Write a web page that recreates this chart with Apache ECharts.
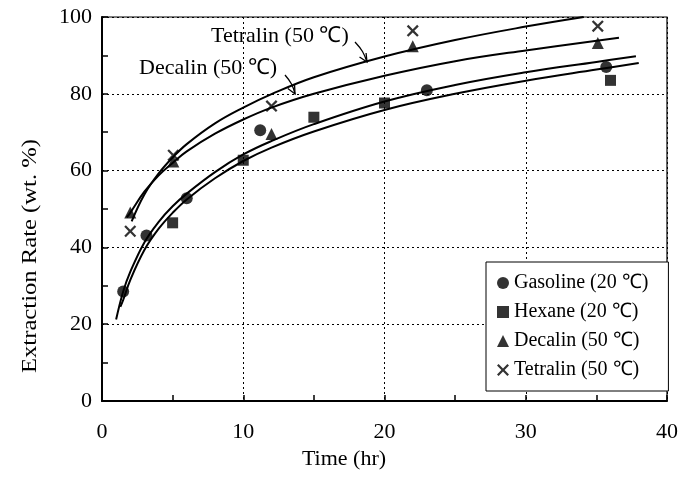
<!DOCTYPE html>
<html>
<head>
<meta charset="utf-8">
<script src="https://cdn.jsdelivr.net/npm/echarts@6/dist/echarts.min.js"></script>
<style>html,body{margin:0;padding:0;background:#fff}#c{width:688px;height:490px}</style>
</head>
<body>
<div id="c"></div>
<script>
// ---- measured points ----
const gasolineX = [1.5, 3.15, 6.0, 11.2, 23.0, 35.7];
const gasolineY = [28.5, 43.1, 52.8, 70.5, 80.9, 87.0];
const hexaneX = [5.0, 10.0, 15.0, 20.0, 36.0];
const hexaneY = [46.4, 62.7, 73.9, 77.6, 83.5];
const decalinX = [2.0, 5.05, 12.0, 22.0, 35.1];
const decalinY = [49.1, 62.4, 69.5, 92.4, 93.2];
const tetralinX = [2.0, 5.05, 12.0, 22.0, 35.1];
const tetralinY = [44.2, 64.0, 76.8, 96.4, 97.6];

// ---- fitted curves ----
const gasCurveX = [1.0, 1.5, 2, 3, 4, 5, 6, 8, 10, 12, 15, 20, 25, 30, 35, 37.8];
const gasCurveY = [21.2, 28.5, 33.6, 41.3, 46.6, 50.7, 54.0, 59.6, 64.2, 67.7, 72.1, 78.0, 82.3, 85.6, 88.3, 89.8];
const hexCurveX = [1.3, 1.5, 2, 3, 4, 5, 6, 8, 10, 12, 15, 20, 25, 30, 35, 38];
const hexCurveY = [24.5, 26.3, 31.5, 39.3, 44.8, 49.0, 52.5, 58.0, 62.5, 66.0, 70.2, 75.8, 80.0, 83.4, 86.3, 88.0];
const decCurveX = [1.75, 2, 3, 4, 5, 6, 8, 10, 12, 15, 20, 25, 30, 36.6];
const decCurveY = [47.8, 49.0, 54.5, 58.7, 62.0, 65.0, 69.6, 73.3, 76.4, 80.0, 84.7, 88.5, 91.3, 94.6];
const tetCurveX = [2.1, 3, 4, 5, 6, 8, 10, 12, 15, 20, 25, 30, 34.1];
const tetCurveY = [46.8, 53.8, 59.2, 63.4, 66.9, 72.3, 76.4, 79.9, 84.3, 89.7, 94.0, 97.5, 100];

const seriesNames = ['Gasoline (20 \u2103)', 'Hexane (20 \u2103)', 'Decalin (50 \u2103)', 'Tetralin (50 \u2103)'];
const xTitle = 'Time (hr)';
const yTitle = 'Extraction Rate (wt. %)';

const zip = (xs, ys) => xs.map((x, i) => [x, ys[i]]);
const FONT = '"Liberation Serif", "Times New Roman", serif';
const crossPath = 'path://M0,1.6 L1.6,0 L6,4.4 L10.4,0 L12,1.6 L7.6,6 L12,10.4 L10.4,12 L6,7.6 L1.6,12 L0,10.4 L4.4,6 Z';

function arrow(x0, y0, x1, y1) {
  const dx = x1 - x0, dy = y1 - y0, L = Math.hypot(dx, dy);
  const ux = -dx / L, uy = -dy / L, a = 25 * Math.PI / 180, len = 9;
  const w = t => [x1 + len * (ux * Math.cos(t) - uy * Math.sin(t)), y1 + len * (ux * Math.sin(t) + uy * Math.cos(t))];
  return [
    { type: 'polyline', shape: { points: [[x0, y0], [(x0 + x1) / 2 + 1.5, (y0 + y1) / 2 - 0.5], [x1, y1]], smooth: 0.4 }, style: { stroke: '#000', lineWidth: 1.3, fill: null } },
    { type: 'polyline', shape: { points: [w(a), [x1, y1], w(-a)] }, style: { stroke: '#000', lineWidth: 1.3, fill: null } }
  ];
}

const chart = echarts.init(document.getElementById('c'), null, { renderer: 'canvas' });
const curveStyle = { color: '#000', width: 2 };
const gridLine = { show: true, lineStyle: { color: '#000', width: 1, type: [2, 3] } };

chart.setOption({
  animation: false,
  backgroundColor: '#fff',
  textStyle: { fontFamily: FONT, color: '#000' },
  grid: { left: 102, right: 21, top: 17, bottom: 89, show: true, borderColor: '#000', borderWidth: 1.2, containLabel: false },
  xAxis: {
    type: 'value', min: 0, max: 40, interval: 10,
    axisLine: { show: true, onZero: false, lineStyle: { color: '#000', width: 2 } },
    axisTick: { show: true, inside: true, length: 6, lineStyle: { color: '#000', width: 1.5 } },
    minorTick: { show: true, splitNumber: 2, length: 6, lineStyle: { color: '#000', width: 1.5 } },
    axisLabel: { fontFamily: FONT, fontSize: 22, color: '#000', margin: 20 },
    splitLine: gridLine
  },
  yAxis: {
    type: 'value', min: 0, max: 100, interval: 20,
    axisLine: { show: true, onZero: false, lineStyle: { color: '#000', width: 2 } },
    axisTick: { show: true, inside: true, length: 6, lineStyle: { color: '#000', width: 1.5 } },
    minorTick: { show: true, splitNumber: 2, length: 6, lineStyle: { color: '#000', width: 1.5 } },
    axisLabel: { fontFamily: FONT, fontSize: 22, color: '#000', margin: 10 },
    splitLine: gridLine
  },
  legend: {
    data: seriesNames,
    orient: 'vertical', left: 486, top: 262,
    backgroundColor: '#fff', borderColor: '#000', borderWidth: 1,
    padding: [11, 20, 11, 11], itemGap: 9, itemWidth: 12, itemHeight: 12,
    textStyle: { fontFamily: FONT, fontSize: 20, color: '#000' }
  },
  graphic: [
    { type: 'text', left: 211, top: 25, style: { text: 'Tetralin (50 \u2103)', font: '22px ' + FONT, fill: '#000' } },
    { type: 'text', left: 139, top: 57, style: { text: 'Decalin (50 \u2103)', font: '22px ' + FONT, fill: '#000' } },
    ...arrow(355, 42, 367, 62),
    ...arrow(285, 75, 295, 94),
    { type: 'text', x: 344, y: 459, style: { text: xTitle, font: '22px ' + FONT, fill: '#000', align: 'center', verticalAlign: 'middle' } },
    { type: 'text', x: 30, y: 256, rotation: Math.PI / 2, scaleX: 1.12, style: { text: yTitle, font: '22px ' + FONT, fill: '#000', align: 'center', verticalAlign: 'middle' } }
  ],
  series: [
    { type: 'line', data: zip(gasCurveX, gasCurveY), smooth: 0.4, showSymbol: false, symbol: 'none', lineStyle: curveStyle, silent: true, z: 1 },
    { type: 'line', data: zip(hexCurveX, hexCurveY), smooth: 0.4, showSymbol: false, symbol: 'none', lineStyle: curveStyle, silent: true, z: 1 },
    { type: 'line', data: zip(decCurveX, decCurveY), smooth: 0.4, showSymbol: false, symbol: 'none', lineStyle: curveStyle, silent: true, z: 1 },
    { type: 'line', data: zip(tetCurveX, tetCurveY), smooth: 0.4, showSymbol: false, symbol: 'none', lineStyle: curveStyle, silent: true, z: 1 },
    { name: seriesNames[0], type: 'scatter', data: zip(gasolineX, gasolineY), symbol: 'circle', symbolSize: 12, itemStyle: { color: '#000' }, z: 3 },
    { name: seriesNames[1], type: 'scatter', data: zip(hexaneX, hexaneY), symbol: 'rect', symbolSize: 11, itemStyle: { color: '#000' }, z: 3 },
    { name: seriesNames[2], type: 'scatter', data: zip(decalinX, decalinY), symbol: 'triangle', symbolSize: 12, itemStyle: { color: '#000' }, z: 3 },
    { name: seriesNames[3], type: 'scatter', data: zip(tetralinX, tetralinY), symbol: crossPath, symbolSize: 12, itemStyle: { color: '#000' }, z: 3 }
  ]
});
</script>
</body>
</html>
